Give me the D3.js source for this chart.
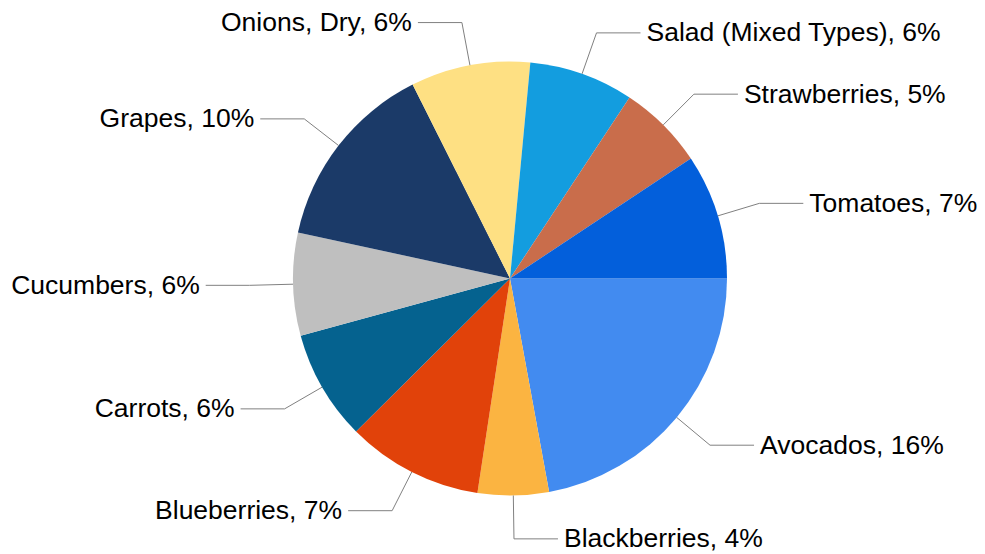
<!DOCTYPE html>
<html>
<head>
<meta charset="utf-8">
<script src="https://cdn.jsdelivr.net/npm/d3@7"></script>
<style>
  body { margin: 0; background: #fff; }
  svg { display: block; }
</style>
</head>
<body>
<svg></svg>
<script>
const width = 985, height = 554;

// Data (share of total, in %)
const categories = ["Avocados", "Blackberries", "Blueberries", "Carrots", "Cucumbers",
                    "Grapes", "Onions, Dry", "Salad (Mixed Types)", "Strawberries", "Tomatoes"];
const values = [15.9, 3.8, 7.3, 5.9, 5.5, 10.2, 6.4, 5.6, 4.6, 6.7];
const colors = ["#428bf0", "#fbb441", "#e1420a", "#05628f", "#bfbfbf",
                "#1b3a68", "#fee083", "#139ddf", "#c96d4b", "#035fdb"];

const svg = d3.select("svg").attr("width", width).attr("height", height);

const cx = 510, cy = 278.5, radius = 217;
const g = svg.append("g").attr("transform", `translate(${cx},${cy})`);

const data = categories.map((c, i) => ({ name: c, value: values[i], color: colors[i] }));

// start at 3 o'clock, go clockwise
const pie = d3.pie()
    .sort(null)
    .value(d => d.value)
    .startAngle(Math.PI / 2)
    .endAngle(Math.PI / 2 + 2 * Math.PI);

const arc = d3.arc().innerRadius(0).outerRadius(radius);
const arcs = pie(data);

g.selectAll("path.slice")
    .data(arcs)
    .enter().append("path")
    .attr("class", "slice")
    .attr("d", arc)
    .attr("fill", d => d.data.color);

// leader lines + labels
const outer = radius * 1.2, tail = 44, gap = 6;

arcs.forEach(d => {
    const a = (d.startAngle + d.endAngle) / 2; // d3 angle: 0 = 12 o'clock
    const sx = radius * Math.sin(a), sy = -radius * Math.cos(a);
    const ex = outer * Math.sin(a), ey = -outer * Math.cos(a);
    const right = ex >= 0;
    const tx = right ? ex + tail : ex - tail;

    g.append("polyline")
        .attr("points", `${sx},${sy} ${ex},${ey} ${tx},${ey}`)
        .attr("fill", "none")
        .attr("stroke", "#808080")
        .attr("stroke-width", 1);

    g.append("text")
        .attr("x", right ? tx + gap : tx - gap)
        .attr("y", ey)
        .attr("dy", "0.32em")
        .attr("text-anchor", right ? "start" : "end")
        .attr("font-family", "'Liberation Sans', Arial, sans-serif")
        .attr("font-size", "26.5px")
        .attr("fill", "#000")
        .text(`${d.data.name}, ${Math.round(d.data.value)}%`);
});
</script>
</body>
</html>
